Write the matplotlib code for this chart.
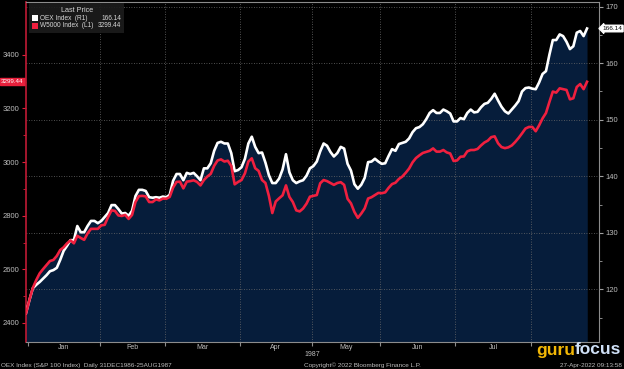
import numpy as np
import pandas as pd
import matplotlib
matplotlib.use("Agg")
import matplotlib.pyplot as plt
from matplotlib.patches import Rectangle

# trading days 31-Dec-1986 .. 25-Aug-1987 (exchange holidays removed)
holidays = ["1987-01-01", "1987-02-16", "1987-04-17", "1987-05-25", "1987-07-03"]
dates = pd.bdate_range("1986-12-31", "1987-08-25")
dates = dates[~dates.isin(pd.to_datetime(holidays))]

# OEX Index (right axis)
oex = [115.8, 118.1, 120.2, 120.8, 121.3, 121.9, 122.5, 123.2, 123.4, 123.8,
       125.2, 126.8, 127.7, 128.7, 128.7, 131.2, 130.1, 130.1, 131.2, 132.1,
       132.1, 131.7, 132.1, 132.8, 133.5, 134.9, 134.9, 134.2, 133.4, 133.5,
       133.0, 133.9, 136.5, 137.6, 137.6, 137.4, 136.3, 136.2, 136.3, 136.2,
       136.4, 136.3, 136.7, 139.2, 140.4, 140.4, 139.3, 140.6, 140.4, 140.6,
       140.0, 139.3, 141.4, 141.4, 142.3, 144.5, 145.9, 146.1, 145.8, 145.8,
       144.1, 140.9, 141.1, 141.6, 143.1, 145.8, 147.0, 145.2, 144.1, 144.2,
       142.4, 140.2, 138.8, 138.8, 139.6, 141.2, 143.9, 140.7, 139.3, 138.8,
       139.1, 139.3, 140.1, 141.4, 141.8, 142.6, 144.4, 145.8, 145.4, 144.3,
       143.5, 144.1, 145.2, 144.9, 142.2, 141.0, 138.6, 137.8, 138.5, 139.7,
       142.5, 142.6, 143.1, 142.6, 142.2, 142.3, 143.6, 144.8, 144.5, 145.7,
       145.9, 146.1, 146.7, 147.8, 148.5, 148.7, 149.2, 150.1, 151.2, 151.7,
       151.2, 151.2, 151.8, 151.5, 151.1, 149.7, 149.7, 150.3, 150.1, 151.2,
       151.8, 151.3, 151.4, 152.2, 152.8, 153.0, 153.7, 154.6, 153.4, 152.3,
       151.5, 151.1, 151.8, 152.5, 153.3, 155.0, 155.6, 155.7, 155.5, 155.4,
       156.6, 158.1, 158.6, 161.5, 164.1, 164.1, 165.1, 164.8, 163.8, 162.5,
       163.0, 165.4, 165.7, 164.8, 166.14]

# W5000 Index (left axis)
w5000 = [2436, 2486, 2531, 2560, 2585, 2601, 2616, 2631, 2635, 2650,
         2672, 2682, 2697, 2708, 2697, 2725, 2717, 2710, 2734, 2751,
         2751, 2751, 2764, 2766, 2795, 2820, 2818, 2801, 2799, 2803,
         2788, 2803, 2851, 2873, 2874, 2872, 2851, 2851, 2861, 2857,
         2864, 2863, 2870, 2905, 2926, 2927, 2902, 2927, 2929, 2932,
         2926, 2913, 2933, 2946, 2956, 2986, 3006, 3010, 3002, 3005,
         2986, 2917, 2926, 2933, 2958, 3002, 3014, 2977, 2967, 2933,
         2922, 2874, 2810, 2853, 2865, 2876, 2913, 2870, 2851, 2820,
         2816, 2827, 2845, 2871, 2874, 2877, 2921, 2933, 2929, 2922,
         2915, 2922, 2925, 2915, 2863, 2846, 2814, 2792, 2808, 2827,
         2864, 2869, 2877, 2885, 2884, 2887, 2904, 2918, 2923, 2937,
         2946, 2960, 2976, 2999, 3015, 3025, 3034, 3038, 3042, 3051,
         3039, 3039, 3045, 3036, 3032, 3004, 3006, 3020, 3021, 3040,
         3045, 3045, 3049, 3062, 3073, 3080, 3093, 3096, 3070, 3056,
         3052, 3055, 3062, 3075, 3090, 3107, 3125, 3131, 3131, 3115,
         3137, 3163, 3183, 3224, 3263, 3259, 3275, 3272, 3269, 3234,
         3238, 3280, 3291, 3272, 3299.44]

month_names = ["Jan", "Feb", "Mar", "Apr", "May", "Jun", "Jul"]

NAVY = "#061d3b"
RED = "#f0203f"
GRID = "#6a6a6a"
TXT = "#bdbdbd"
plt.rcParams["font.family"] = ["Liberation Sans", "DejaVu Sans"]

W, H = 624, 369
def fx(x):
    return x / W
def fy(y):
    return 1 - y / H

x = np.arange(len(dates))
months = pd.Series(dates.month)

fig = plt.figure(figsize=(6.24, 3.69), dpi=100, facecolor="black")
ax = fig.add_axes([fx(26), fy(342), (599 - 26) / W, 340 / H])
ax.set_facecolor("black")
ax2 = ax.twinx()

ax.set_xlim(0, 167.5)
ax.set_ylim(2329, 3597)
ax2.set_ylim(110.68, 170.83)
ax.set_autoscale_on(False)
ax2.set_autoscale_on(False)

# fills and lines (red uses the left scale)
ax2.fill_between(x, oex, 110.68, color=NAVY, lw=0, zorder=1)
ax2.fill_between(x, w5000, 2329, color=NAVY, lw=0, zorder=1, transform=ax.transData)
ax2.plot(x, oex, color="white", lw=1.9, zorder=3, solid_joinstyle="round")
ax2.plot(x, w5000, color=RED, lw=1.9, zorder=4, transform=ax.transData,
         solid_joinstyle="round")

# grid
ax2.set_yticks(np.arange(120, 171, 10))
ax2.set_yticks(np.arange(115, 171, 10), minor=True)
ax2.grid(axis="y", which="major", color=GRID, ls=(0, (1, 2)), lw=0.6)
ax2.set_axisbelow("line")
bounds = [months[months == m].index[0] - 0.5 for m in range(2, 9)]
for b in bounds:
    ax2.axvline(b, color=GRID, ls=(0, (1, 2)), lw=0.6, zorder=1.5)

# x axis
centers = [months[months == m].index.values.mean() for m in range(1, 8)]
ax.set_xticks([0.5] + bounds)
ax.set_xticklabels([])
ax.set_xticks(centers, minor=True)
ax.set_xticklabels(month_names, minor=True)
ax.tick_params(axis="x", which="major", length=3, color="#8c8c8c")
ax.tick_params(axis="x", which="minor", length=0, pad=1.5, labelsize=5,
               labelcolor=TXT)
ax.set_xlabel("1987", fontsize=5, color=TXT, labelpad=0)

# left axis
ax.set_yticks(np.arange(2400, 3401, 200))
ax.set_yticks(np.arange(2500, 3500, 200), minor=True)
ax.tick_params(axis="y", which="both", color="#e0203c", labelsize=5.5,
               labelcolor=TXT, length=3, pad=1.5)
ax.tick_params(axis="y", which="minor", length=2)

# right axis
ax2.tick_params(axis="y", which="both", color="#a0a0a0", labelsize=5.5,
                labelcolor=TXT, length=3, pad=1.5)
ax2.tick_params(axis="y", which="minor", length=2)

for s in ax.spines.values():
    s.set_visible(False)
ax2.spines["left"].set_color("#c01a34")
ax2.spines["left"].set_linewidth(1.2)
for k in ["right", "top", "bottom"]:
    ax2.spines[k].set_color("#8c8c8c")
    ax2.spines[k].set_linewidth(0.8)

# last value tags
ax2.text(1.006, oex[-1], f"{oex[-1]:.2f}", transform=ax2.get_yaxis_transform(),
         ha="left", va="center", fontsize=4.6, color="black",
         bbox=dict(boxstyle="larrow,pad=0.12", fc="white", ec="white"), zorder=10)
ax.text(-0.004, w5000[-1], f"{w5000[-1]:.2f}", transform=ax.get_yaxis_transform(),
        ha="right", va="center", fontsize=4.5, color="white",
        bbox=dict(boxstyle="square,pad=0.15", fc="#e8203c", ec="#e8203c"), zorder=10)

# legend box
fig.patches.append(Rectangle((fx(29), fy(32.5)), 95 / W, 29.5 / H,
                             transform=fig.transFigure, fc="#1c1c1c", ec="none",
                             alpha=0.9, zorder=20))
fig.text(fx(77), fy(10), "Last Price", ha="center", va="center", fontsize=5.2,
         color="#d8d8d8", zorder=21)
rows = [("OEX Index  (R1)", f"{oex[-1]:.2f}", "white", 18.3),
        ("W5000 Index  (L1)", f"{w5000[-1]:.2f}", RED, 25.8)]
for name, val, col, yy in rows:
    fig.patches.append(Rectangle((fx(32), fy(yy + 3)), 6 / W, 6 / H,
                                 transform=fig.transFigure, fc=col, ec="none", zorder=21))
    fig.text(fx(40), fy(yy), name, ha="left", va="center", fontsize=4.7,
             color="#d8d8d8", zorder=21)
    fig.text(fx(121), fy(yy), val, ha="right", va="center", fontsize=4.7,
             color="#d8d8d8", zorder=21)

# footer
fig.text(fx(1), fy(365), "OEX Index (S&P 100 Index)  Daily 31DEC1986-25AUG1987",
         ha="left", va="center", fontsize=4.6, color=TXT)
fig.text(fx(362), fy(365), "Copyright\u00a9 2022 Bloomberg Finance L.P.",
         ha="center", va="center", fontsize=4.6, color=TXT)
fig.text(fx(622), fy(365), "27-Apr-2022 09:13:58",
         ha="right", va="center", fontsize=4.6, color=TXT)

# logo
fig.text(fx(575), fy(350), "guru", ha="right", va="center", fontsize=12.5,
         fontweight="bold", color="#f2b705", zorder=30)
fig.text(fx(575), fy(350), "focus", ha="left", va="center", fontsize=12.5,
         fontweight="bold", color="#cfe0f7", zorder=30)

fig.savefig("out.png", dpi=100, facecolor="black")
